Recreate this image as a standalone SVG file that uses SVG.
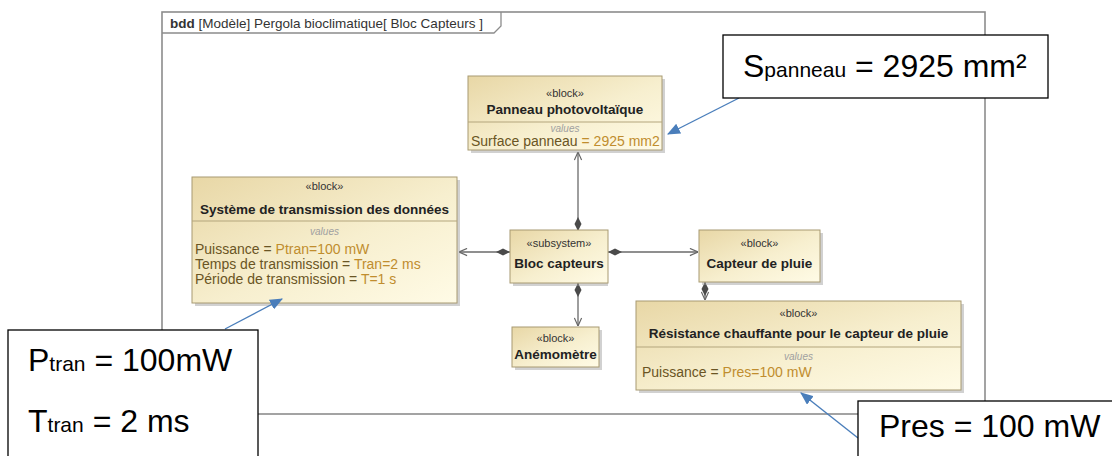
<svg xmlns="http://www.w3.org/2000/svg" width="1112" height="456" viewBox="0 0 1112 456">
<defs>
<linearGradient id="tan" x1="0" y1="0" x2="1" y2="1">
<stop offset="0" stop-color="#e8d7a6"/>
<stop offset="0.55" stop-color="#f7efcf"/>
<stop offset="1" stop-color="#fffbe6"/>
</linearGradient>
<marker id="open" viewBox="0 0 10 10" refX="10" refY="5" markerWidth="9" markerHeight="9" markerUnits="userSpaceOnUse" orient="auto">
<path d="M1,1 L10,5 L1,9" fill="none" stroke="#666" stroke-width="1.3"/>
</marker>
<marker id="diam" viewBox="0 0 14 8" refX="0" refY="4" markerWidth="14" markerHeight="8" markerUnits="userSpaceOnUse" orient="auto">
<path d="M0,4 L7,0.5 L14,4 L7,7.5 Z" fill="#4a4a4a"/>
</marker>
<marker id="blue" viewBox="0 0 12 10" refX="11" refY="5" markerWidth="13" markerHeight="11" markerUnits="userSpaceOnUse" orient="auto">
<path d="M0,0 L12,5 L0,10 Z" fill="#4a7ebb"/>
</marker>
</defs>
<style>
.frame{fill:#fff;stroke:#8c8c8c;stroke-width:1.6}
.tab{fill:none;stroke:#8c8c8c;stroke-width:1.3}
.tabtxt{font-family:"Liberation Sans",Arial,sans-serif;font-size:13.5px;fill:#333}
.blk{fill:url(#tan);stroke:#a89a72;stroke-width:1}
.shd{fill:#9a9a9a;opacity:0.45}
.sep{stroke:#b3a57c;stroke-width:1}
.st{font-family:"Liberation Sans",Arial,sans-serif;font-size:11px;fill:#333;text-anchor:middle}
.ti{font-family:"Liberation Sans",Arial,sans-serif;font-size:13.5px;font-weight:bold;fill:#222;text-anchor:middle}
.vl{font-family:"Liberation Sans",Arial,sans-serif;font-size:10px;font-style:italic;fill:#a0a0a0;text-anchor:middle}
.pv{font-family:"Liberation Sans",Arial,sans-serif;font-size:14px;fill:#6a5524}
.dv{fill:#c08d2e}
.con{fill:none;stroke:#6a6a6a;stroke-width:1.3}
.call{fill:#fff;stroke:#000;stroke-width:1.3}
.ct{font-family:"Liberation Sans",Arial,sans-serif;font-size:32px;fill:#000}
.sub{font-size:21px}
.bl{fill:none;stroke:#4a7ebb;stroke-width:1.4}
</style>

<g id="frame">
<rect class="frame" x="162" y="12" width="823" height="402"/>
<path class="tab" d="M162,33 H494 L501,26 V12"/>
<text class="tabtxt" x="170" y="28"><tspan font-weight="bold">bdd</tspan>  [Modèle] Pergola bioclimatique[ Bloc Capteurs ]</text>
</g>

<g id="connectors">
<line class="con" x1="578" y1="231" x2="578" y2="152" marker-start="url(#diam)" marker-end="url(#open)"/>
<line class="con" x1="578" y1="283" x2="578" y2="326" marker-start="url(#diam)" marker-end="url(#open)"/>
<line class="con" x1="510" y1="252" x2="459" y2="252" marker-start="url(#diam)" marker-end="url(#open)"/>
<line class="con" x1="608" y1="252" x2="698" y2="252" marker-start="url(#diam)" marker-end="url(#open)"/>
<line class="con" x1="705" y1="282" x2="705" y2="300" marker-start="url(#diam)" marker-end="url(#open)"/>
</g>

<g id="panneau">
<rect class="shd" x="471" y="79" width="194" height="74"/>
<rect class="blk" x="468" y="76" width="194" height="74"/>
<line class="sep" x1="468" y1="122" x2="662" y2="122"/>
<text class="st" x="565" y="97">«block»</text>
<text class="ti" x="565" y="114">Panneau photovoltaïque</text>
<text class="vl" x="565" y="132">values</text>
<text class="pv" x="471" y="146">Surface panneau <tspan class="dv">= 2925 mm2</tspan></text>
</g>

<g id="systeme">
<rect class="shd" x="195" y="180" width="265" height="126"/>
<rect class="blk" x="192" y="177" width="265" height="126"/>
<line class="sep" x1="192" y1="221" x2="457" y2="221"/>
<text class="st" x="324.5" y="190">«block»</text>
<text class="ti" x="324.5" y="214">Système de transmission des données</text>
<text class="vl" x="324.5" y="235">values</text>
<text class="pv" x="195" y="254">Puissance = <tspan class="dv">Ptran=100 mW</tspan></text>
<text class="pv" x="195" y="269">Temps de transmission  = <tspan class="dv">Tran=2 ms</tspan></text>
<text class="pv" x="195" y="284">Période de transmission = <tspan class="dv">T=1 s</tspan></text>
</g>

<g id="bloc">
<rect class="shd" x="513" y="233" width="95" height="53"/>
<rect class="blk" x="510" y="230" width="98" height="53"/>
<text class="st" x="559" y="247">«subsystem»</text>
<text class="ti" x="559" y="268">Bloc capteurs</text>
</g>

<g id="capteur">
<rect class="shd" x="702" y="233" width="121" height="52"/>
<rect class="blk" x="699" y="230" width="121" height="52"/>
<text class="st" x="759.5" y="247">«block»</text>
<text class="ti" x="759.5" y="268">Capteur de pluie</text>
</g>

<g id="anemometre">
<rect class="shd" x="515" y="330" width="87" height="40"/>
<rect class="blk" x="512" y="327" width="87" height="40"/>
<text class="st" x="555.5" y="342">«block»</text>
<text class="ti" x="555.5" y="359">Anémomètre</text>
</g>

<g id="resistance">
<rect class="shd" x="639" y="304" width="325" height="89"/>
<rect class="blk" x="636" y="301" width="325" height="89"/>
<line class="sep" x1="636" y1="347" x2="961" y2="347"/>
<text class="st" x="798.5" y="317">«block»</text>
<text class="ti" x="798.5" y="338">Résistance chauffante pour le capteur de pluie</text>
<text class="vl" x="798.5" y="360">values</text>
<text class="pv" x="642" y="377">Puissance = <tspan class="dv">Pres=100 mW</tspan></text>
</g>

<g id="callout-spanneau">
<line class="bl" x1="739" y1="98" x2="668" y2="134" marker-end="url(#blue)"/>
<rect class="call" x="723" y="35" width="325" height="63"/>
<text class="ct" x="743" y="77">S<tspan class="sub">panneau</tspan> = 2925 mm²</text>
</g>

<g id="callout-ptran">
<line class="bl" x1="225" y1="329" x2="282" y2="299" marker-end="url(#blue)"/>
<rect class="call" x="8" y="330" width="250" height="140"/>
<text class="ct" x="28" y="371">P<tspan class="sub">tran</tspan> = 100mW</text>
<text class="ct" x="28" y="432">T<tspan class="sub">tran</tspan> = 2 ms</text>
</g>

<g id="callout-pres">
<line class="bl" x1="858" y1="438" x2="801" y2="393" marker-end="url(#blue)"/>
<rect class="call" x="858" y="401" width="270" height="70"/>
<text class="ct" x="879" y="437" font-size="31">Pres = 100 mW</text>
</g>
</svg>
